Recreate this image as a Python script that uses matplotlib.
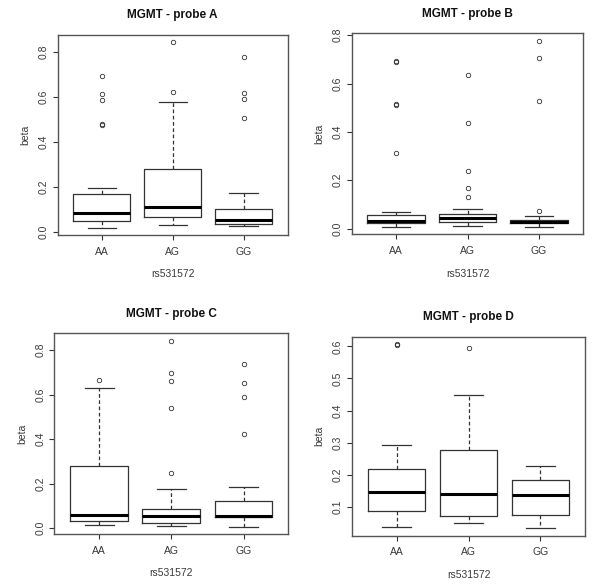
import matplotlib
matplotlib.use("Agg")
import matplotlib.pyplot as plt

plt.rcParams['font.family'] = ['Liberation Sans', 'DejaVu Sans']

groups = ["AA", "AG", "GG"]
xlabel = "rs531572"
ylabel = "beta"
titles = ["MGMT - probe A", "MGMT - probe B", "MGMT - probe C", "MGMT - probe D"]

# Panel A: [whislo, q1, med, q3, whishi] per group
a_stats = [[0.018, 0.046, 0.085, 0.167, 0.194],
           [0.030, 0.064, 0.109, 0.277, 0.578],
           [0.024, 0.034, 0.054, 0.100, 0.171]]
a_out = [[0.693, 0.611, 0.585, 0.480, 0.477],
         [0.621, 0.843],
         [0.779, 0.618, 0.593, 0.505]]

b_stats = [[0.007, 0.021, 0.033, 0.058, 0.067],
           [0.012, 0.025, 0.043, 0.062, 0.080],
           [0.008, 0.021, 0.026, 0.037, 0.052]]
b_out = [[0.690, 0.693, 0.510, 0.514, 0.314],
         [0.635, 0.435, 0.237, 0.167, 0.131],
         [0.777, 0.705, 0.527, 0.073]]

c_stats = [[0.016, 0.033, 0.058, 0.279, 0.631],
           [0.010, 0.024, 0.055, 0.087, 0.176],
           [0.007, 0.048, 0.054, 0.122, 0.185]]
c_out = [[0.666],
         [0.246, 0.539, 0.661, 0.699, 0.842],
         [0.421, 0.590, 0.652, 0.737]]

d_stats = [[0.036, 0.086, 0.146, 0.218, 0.294],
           [0.050, 0.072, 0.141, 0.276, 0.447],
           [0.033, 0.073, 0.136, 0.185, 0.228]]
d_out = [[0.607, 0.605],
         [0.594],
         []]

a_ticks = [0.0, 0.2, 0.4, 0.6, 0.8]
b_ticks = [0.0, 0.2, 0.4, 0.6, 0.8]
c_ticks = [0.0, 0.2, 0.4, 0.6, 0.8]
d_ticks = [0.1, 0.2, 0.3, 0.4, 0.5, 0.6]

panels = [
    (a_stats, a_out, a_ticks, [0.0962, 0.5983, 0.3833, 0.3419]),
    (b_stats, b_out, b_ticks, [0.5862, 0.5995, 0.3860, 0.3436]),
    (c_stats, c_out, c_ticks, [0.0905, 0.0872, 0.3900, 0.3430]),
    (d_stats, d_out, d_ticks, [0.5867, 0.0843, 0.3883, 0.3400]),
]

TXT = "#3a3a3a"
LINE = "#333333"

fig = plt.figure(figsize=(6.0, 5.85), dpi=100)
for (stats, outs, ticks, pos), title in zip(panels, titles):
    ax = fig.add_axes(pos)
    bxs = []
    for g, s, o in zip(groups, stats, outs):
        bxs.append(dict(label=g, whislo=s[0], q1=s[1], med=s[2], q3=s[3],
                        whishi=s[4], fliers=o))
    ax.bxp(bxs, positions=[1, 2, 3], widths=0.8, capwidths=0.4,
           boxprops=dict(color=LINE, linewidth=0.9),
           medianprops=dict(color="black", linewidth=2.2, solid_capstyle="butt"),
           whiskerprops=dict(color=LINE, linewidth=0.9, linestyle=(0, (3, 2))),
           capprops=dict(color=LINE, linewidth=0.9),
           flierprops=dict(marker="o", markersize=3.2, markerfacecolor="none",
                           markeredgecolor=LINE, markeredgewidth=0.6, linestyle="none"))
    vals = [v for s in stats for v in s] + [v for o in outs for v in o]
    lo, hi = min(vals), max(vals)
    pad = 0.04 * (hi - lo)
    ax.set_ylim(lo - pad, hi + pad)
    ax.set_xlim(0.38, 3.62)
    ax.set_yticks(ticks)
    ax.set_yticklabels([f"{t:.1f}" for t in ticks], rotation=90, va="center")
    ax.set_xticks([1, 2, 3])
    ax.set_xticklabels(groups)
    ax.tick_params(axis="both", direction="out", length=3.5, width=0.8,
                   color=LINE, labelcolor=TXT, labelsize=7.5, pad=3)
    ax.tick_params(axis="x", pad=5)
    for sp in ax.spines.values():
        sp.set_color("#555555")
        sp.set_linewidth(1.0)
    ax.set_title(title, fontsize=8.5, fontweight="bold", color="#111111", pad=12)
    ax.set_xlabel(xlabel, fontsize=7.5, color=TXT, labelpad=9)
    ax.set_ylabel(ylabel, fontsize=7.5, color=TXT, labelpad=6)

fig.savefig("out.png", dpi=100, facecolor="white")
